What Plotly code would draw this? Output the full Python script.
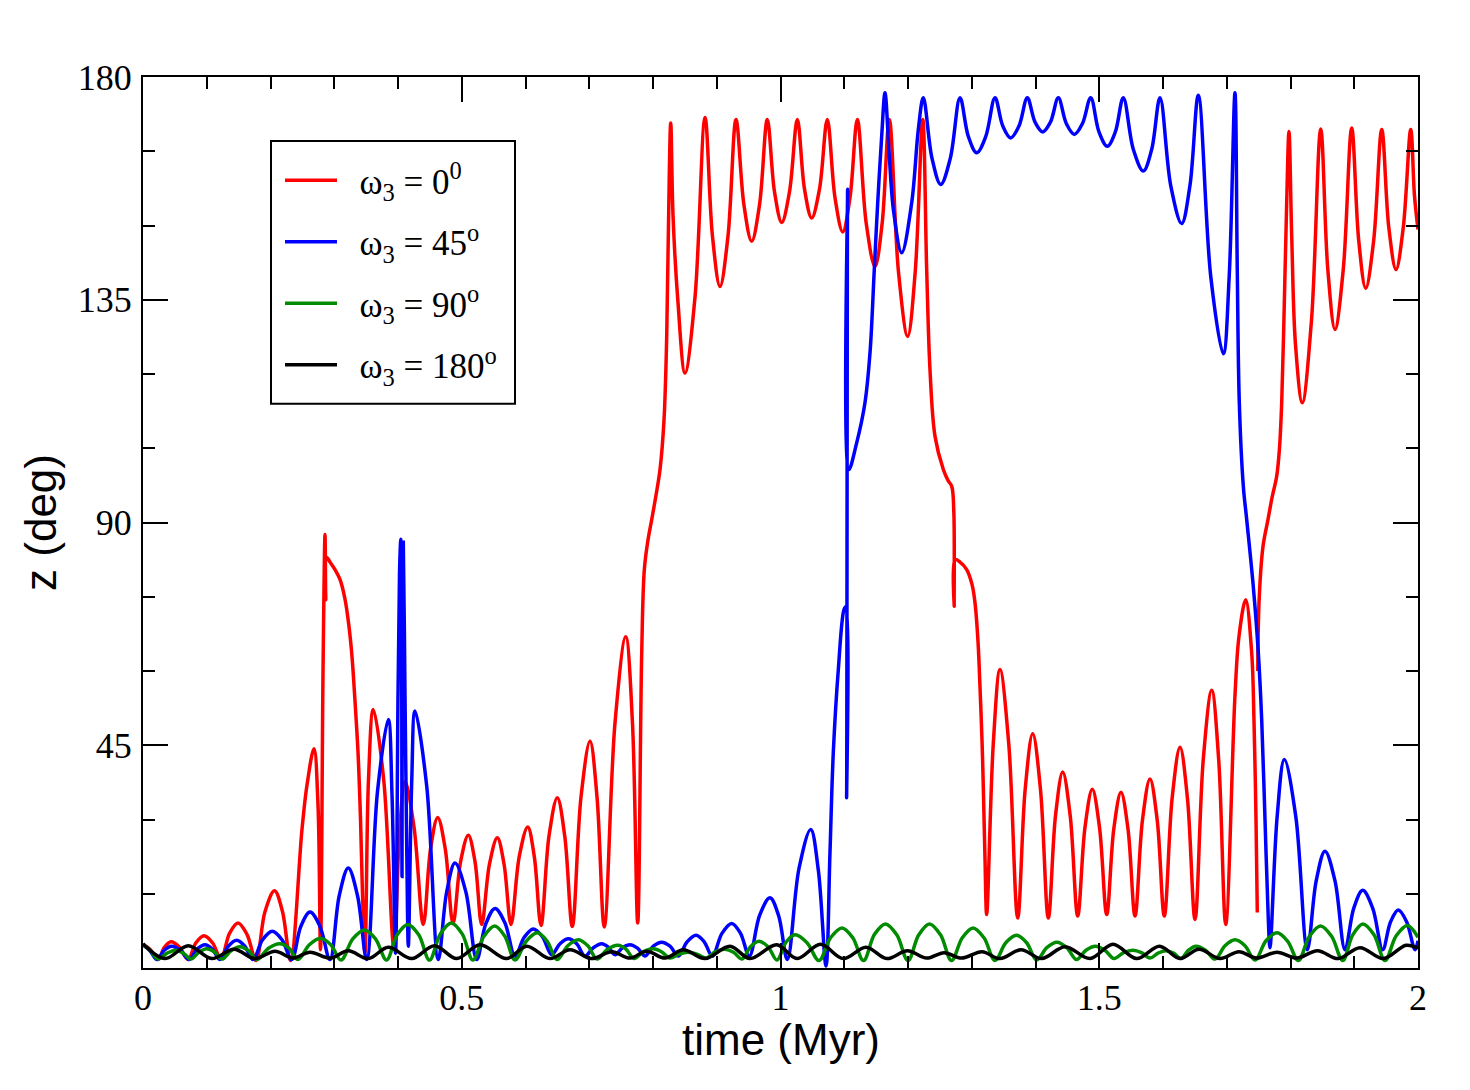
import plotly.graph_objects as go

# ---------------- data (time in Myr, z in degrees) ----------------
red_t = [
    0, 0.0110, 0.0235, 0.0337, 0.0439, 0.0573, 0.0706, 0.0831, 0.0957, 0.1090,
    0.1224, 0.1357, 0.1490, 0.1631, 0.1773, 0.1914, 0.2063, 0.2188, 0.2314, 0.2494,
    0.2573, 0.2682, 0.2745, 0.2784, 0.2824, 0.2855, 0.2867, 0.2878, 0.2933, 0.3012,
    0.3090, 0.3169, 0.3231, 0.3278, 0.3325, 0.3373, 0.3412, 0.3443, 0.3482, 0.3537,
    0.3613, 0.3776, 0.3937, 0.4024, 0.4110, 0.4251, 0.4397, 0.4510, 0.4623, 0.4742,
    0.4863, 0.4982, 0.5103, 0.5208, 0.5313, 0.5435, 0.5558, 0.5663, 0.5773, 0.5903,
    0.6035, 0.6138, 0.6243, 0.6369, 0.6499, 0.6616, 0.6734, 0.6871, 0.7012, 0.7122,
    0.7236, 0.7404, 0.7572, 0.7678, 0.7760, 0.7823, 0.7864, 0.7922, 0.7980, 0.8047,
    0.8110, 0.8173, 0.8215, 0.8240, 0.8278, 0.8314, 0.8389, 0.8502, 0.8659, 0.8816,
    0.8933, 0.9051, 0.9176, 0.9302, 0.9426, 0.9548, 0.9671, 0.9793, 0.9906, 1.0019,
    1.0141, 1.0264, 1.0376, 1.0489, 1.0612, 1.0734, 1.0855, 1.0976, 1.1090, 1.1205,
    1.1344, 1.1482, 1.1595, 1.1707, 1.1851, 1.1995, 1.2113, 1.2231, 1.2293, 1.2345,
    1.2424, 1.2554, 1.2627, 1.2686, 1.2719, 1.2725, 1.2737, 1.2816, 1.2921, 1.3004,
    1.3051, 1.3098, 1.3129, 1.3161, 1.3181, 1.3208, 1.3234, 1.3338, 1.3443, 1.3581,
    1.3721, 1.3838, 1.3956, 1.4078, 1.4201, 1.4314, 1.4427, 1.4544, 1.4662, 1.4776,
    1.4891, 1.5004, 1.5117, 1.5228, 1.5341, 1.5451, 1.5561, 1.5678, 1.5796, 1.5909,
    1.6020, 1.6144, 1.6267, 1.6384, 1.6502, 1.6632, 1.6764, 1.6874, 1.6984, 1.7129,
    1.7192, 1.7297, 1.7391, 1.7427, 1.7459, 1.7479, None, 1.7487, 1.7506, 1.7569,
    1.7647, 1.7710, 1.7784, 1.7827, 1.7862, 1.7903, 1.7940, 1.7976, 1.8019, 1.8078,
    1.8185, 1.8329, 1.8474, 1.8585, 1.8698, 1.8828, 1.8960, 1.9070, 1.9180, 1.9305,
    1.9431, 1.9542, 1.9655, 1.9769, 1.9886, 1.9945, 2.0,
]
red_z = [
    4.7, 3.8, 1.7, 4.2, 5.3, 4.2, 1.7, 5.1, 6.5, 5.1,
    1.9, 7.0, 9.1, 6.8, 1.5, 11.4, 15.6, 11.4, 1.5, 28,
    37, 44.3, 33, 3.7, 60, 87.6, 74.4, 83, 82, 80.5,
    78.5, 74.5, 69, 63, 54, 43.5, 30, 15, 3, 38,
    52.2, 38, 4, 27.5, 37.7, 28.5, 8.8, 24, 30.4, 24,
    9, 21.5, 26.8, 21.5, 8.8, 21, 26.3, 21, 8.8, 22.6,
    28.5, 22.5, 8.6, 26.7, 34.4, 26.6, 8.4, 34.6, 45.8, 34.5,
    8.3, 49.5, 66.9, 49.5, 9.1, 63.7, 80.5, 86.5, 90.6, 95.5,
    100.7, 110.8, 127.6, 147.8, 170.7, 152, 135, 120.2, 135.5, 171.8,
    147.8, 137.7, 147.8, 171.4, 154.2, 146.8, 154.2, 171.4, 156.8, 150.6,
    156.8, 171.4, 157.4, 151.5, 157.4, 171.4, 155.6, 148.7, 155.6, 171.4,
    150.5, 141.7, 150.5, 171.4, 140.6, 127.6, 140.6, 171.4, 141.1, 120.9,
    107.4, 100.7, 98.5, 97.3, 92, 73.1, 82.5, 82, 80.5, 77.5,
    73.8, 66, 56.9, 46, 36.7, 22, 10.8, 45.4, 60.3, 45.2,
    10.1, 36.1, 47.3, 36.1, 10.1, 30.8, 39.6, 30.8, 10.5, 28.4,
    36.1, 28.4, 10.8, 28.1, 35.5, 28.1, 10.5, 29.9, 38.2, 29.9,
    10.5, 34.4, 44.6, 34.2, 9.8, 42.2, 56.1, 42, 8.8, 55,
    67, 74.4, 63.7, 50.2, 30, 11.2, None, 60, 73.8, 85.2,
    90.6, 95, 99.4, 105, 114.2, 134.4, 154.6, 169, 147.8, 126,
    114.2, 130.8, 169.5, 141.2, 129, 141.2, 169.7, 147, 137.3, 147,
    169.4, 149.6, 141.1, 149.6, 169.4, 156, 149.2,
]

blue_t = [
    0, 0.0110, 0.0220, 0.0334, 0.0450, 0.0585, 0.0722, 0.0847, 0.0973, 0.1090,
    0.1208, 0.1338, 0.1470, 0.1597, 0.1725, 0.1876, 0.2028, 0.2180, 0.2333, 0.2475,
    0.2620, 0.2776, 0.2933, 0.3078, 0.3220, 0.3365, 0.3509, 0.3678, 0.3848, 0.3906,
    0.3961, 0.4000, 0.4024, 0.4044, 0.4056, 0.4063, 0.4069, 0.4083, 0.4110, 0.4141,
    0.4162, 0.4215, 0.4267, 0.4450, 0.4632, 0.4764, 0.4894, 0.5064, 0.5235, 0.5377,
    0.5522, 0.5678, 0.5835, 0.5980, 0.6122, 0.6267, 0.6411, 0.6541, 0.6671, 0.6803,
    0.6933, 0.7064, 0.7195, 0.7299, 0.7404, 0.7522, 0.7639, 0.7757, 0.7875, 0.8005,
    0.8136, 0.8267, 0.8397, 0.8536, 0.8675, 0.8803, 0.8930, 0.9082, 0.9235, 0.9373,
    0.9511, 0.9674, 0.9835, 0.9972, 1.0107, 1.0290, 1.0474, 1.0594, 1.0714, 1.0776,
    1.0828, 1.0907, 1.0996, 1.1027, 1.1037, 1.1053, 1.1071, 1.1195, 1.1325, 1.1404,
    1.1471, 1.1525, 1.1587, 1.1639, 1.1702, 1.1773, 1.1901, 1.2058, 1.2162, 1.2240,
    1.2376, 1.2513, 1.2664, 1.2816, 1.2946, 1.3078, 1.3220, 1.3365, 1.3487, 1.3611,
    1.3741, 1.3872, 1.3992, 1.4113, 1.4235, 1.4358, 1.4483, 1.4609, 1.4737, 1.4866,
    1.4996, 1.5126, 1.5252, 1.5377, 1.5534, 1.5691, 1.5823, 1.5953, 1.6122, 1.6293,
    1.6424, 1.6554, 1.6750, 1.6946, 1.7039, 1.7129, 1.7165, 1.7197, 1.7260, 1.7313,
    1.7416, 1.7495, 1.7548, 1.7600, 1.7652, 1.7678, 1.7791, 1.7903, 1.8083, 1.8264,
    1.8403, 1.8541, 1.8698, 1.8855, 1.8993, 1.9133, 1.9289, 1.9446, 1.9569, 1.9691,
    1.9823, 1.9953, 2.0,
]
blue_z = [
    4.7, 3.5, 1.7, 3.6, 4.4, 3.6, 1.7, 3.8, 4.7, 3.8,
    1.7, 4.4, 5.6, 4.4, 1.7, 5.7, 7.4, 5.7, 1.7, 8.4,
    11.3, 8.4, 1.7, 14.6, 20.2, 14.6, 1.7, 35.6, 50.2, 35,
    3, 55, 80, 86.6, 70, 18.5, 70, 86, 55, 20,
    4.4, 37.6, 51.9, 36.8, 1.7, 15.4, 21.2, 15.4, 1.7, 8.9,
    12, 9.1, 2.4, 6.2, 7.9, 6.3, 2.7, 4.9, 5.9, 4.9,
    2.4, 4.1, 4.9, 4.2, 2.7, 4.1, 4.7, 4.0, 2.4, 4.4,
    5.2, 4.4, 2.4, 5.3, 6.6, 5.3, 2.4, 7.0, 9.0, 7.0,
    2.4, 10.7, 14.2, 10.5, 1.7, 20.1, 28, 19.7, 0.4, 23.3,
    43.5, 60.3, 72.4, 73, 34.4, 157.3, 100.7, 106.1, 114.2, 124.3,
    141.1, 154.6, 168, 176.8, 165, 153, 144.5, 154.6, 169.4, 175.8,
    163.6, 158.3, 163.6, 175.8, 168, 164.7, 168, 175.8, 170.1, 167.7,
    170.1, 175.8, 170.9, 168.9, 170.9, 175.8, 170.6, 168.4, 170.6, 175.8,
    168.9, 166, 168.9, 175.8, 165.4, 161, 165.4, 175.8, 158, 150.4,
    158.2, 176.3, 139.6, 124.1, 139.9, 176.8, 141.1, 114.2, 97.3, 90.6,
    77.1, 63.7, 50.2, 30, 9.8, 4.1, 30.7, 42.1, 30.6, 3.7,
    17.6, 23.6, 17.6, 3.7, 12.1, 15.7, 12.1, 3.7, 9.3, 11.7,
    9.3, 3.7, 5.5,
]

green_t = [
    0, 0.0110, 0.0235, 0.0376, 0.0518, 0.0635, 0.0753, 0.0878, 0.0999, 0.1118,
    0.1239, 0.1380, 0.1522, 0.1655, 0.1788, 0.1969, 0.2149, 0.2290, 0.2431, 0.2609,
    0.2784, 0.2946, 0.3106, 0.3291, 0.3475, 0.3647, 0.3820, 0.3987, 0.4154, 0.4325,
    0.4494, 0.4665, 0.4836, 0.5007, 0.5176, 0.5347, 0.5517, 0.5677, 0.5835, 0.6011,
    0.6185, 0.6340, 0.6494, 0.6664, 0.6831, 0.6977, 0.7122, 0.7286, 0.7451, 0.7576,
    0.7702, 0.7851, 0.8000, 0.8133, 0.8267, 0.8408, 0.8549, 0.8690, 0.8831, 0.8980,
    0.9129, 0.9263, 0.9396, 0.9529, 0.9663, 0.9804, 0.9945, 1.0086, 1.0227, 1.0416,
    1.0604, 1.0784, 1.0965, 1.1134, 1.1302, 1.1475, 1.1647, 1.1824, 1.2000, 1.2169,
    1.2337, 1.2510, 1.2682, 1.2852, 1.3020, 1.3192, 1.3365, 1.3534, 1.3702, 1.3861,
    1.4019, 1.4177, 1.4337, 1.4491, 1.4646, 1.4792, 1.4941, 1.5087, 1.5231, 1.5380,
    1.5529, 1.5663, 1.5796, 1.5922, 1.6047, 1.6165, 1.6282, 1.6400, 1.6518, 1.6667,
    1.6816, 1.6973, 1.7129, 1.7286, 1.7443, 1.7616, 1.7788, 1.7956, 1.8122, 1.8297,
    1.8471, 1.8645, 1.8819, 1.8977, 1.9137, 1.9310, 1.9482, 1.9658, 1.9835, 2.0,
]
green_z = [
    4.7, 3.6, 1.8, 3.0, 3.6, 3.0, 1.8, 3.2, 3.9, 3.3,
    1.8, 3.5, 4.3, 3.5, 1.7, 4.0, 4.9, 4.0, 1.7, 4.7,
    6.0, 4.7, 1.6, 5.9, 7.7, 5.9, 1.6, 6.7, 8.8, 6.7,
    1.6, 6.9, 9.1, 6.9, 1.6, 6.4, 8.5, 6.4, 1.6, 5.4,
    7.1, 5.4, 1.7, 4.5, 5.7, 4.5, 1.8, 3.8, 4.6, 3.8,
    1.9, 3.3, 3.9, 3.3, 2.0, 2.8, 3.2, 2.8, 2.0, 3.3,
    3.8, 3.2, 1.8, 4.3, 5.4, 4.3, 1.6, 5.2, 6.7, 5.1,
    1.5, 6.1, 8.1, 6.1, 1.5, 6.8, 8.9, 6.7, 1.5, 6.7,
    8.9, 6.7, 1.5, 6.1, 8.1, 6.1, 1.5, 5.1, 6.6, 5.1,
    1.6, 4.1, 5.2, 4.1, 1.7, 3.6, 4.4, 3.6, 1.9, 3.1,
    3.6, 3.1, 2.0, 3.0, 3.5, 3.0, 1.9, 3.6, 4.4, 3.6,
    1.8, 4.5, 5.7, 4.5, 1.6, 5.5, 7.1, 5.4, 1.5, 6.4,
    8.5, 6.4, 1.5, 6.7, 8.9, 6.7, 1.5, 6.5, 8.6, 6.2,
]

black_t = [
    0, 0.0345, 0.0711, 0.1078, 0.1427, 0.1757, 0.2071, 0.2353, 0.2620, 0.2933,
    0.3220, 0.3534, 0.3848, 0.4215, 0.4573, 0.4921, 0.5286, 0.5705, 0.6019, 0.6384,
    0.6698, 0.7038, 0.7352, 0.7639, 0.7901, 0.8188, 0.8475, 0.8816, 0.9208, 0.9522,
    0.9940, 1.0259, 1.0627, 1.0985, 1.1341, 1.1666, 1.1992, 1.2293, 1.2565, 1.2842,
    1.3161, 1.3443, 1.3773, 1.4097, 1.4463, 1.4855, 1.5216, 1.5587, 1.5945, 1.6267,
    1.6565, 1.6894, 1.7192, 1.7470, 1.7788, 1.8097, 1.8424, 1.8750, 1.9090, 1.9456,
    1.9812, 2.0,
]
black_z = [
    4.9, 1.9, 4.5, 1.9, 3.8, 1.9, 3.4, 2.0, 3.2, 2.0,
    3.5, 1.9, 4.2, 1.9, 4.5, 1.9, 4.7, 1.9, 4.4, 1.9,
    3.7, 1.9, 3.3, 2.0, 3.4, 2.0, 3.7, 1.9, 4.4, 1.9,
    4.7, 1.9, 4.8, 1.9, 4.2, 1.9, 3.5, 2.0, 3.1, 2.0,
    3.3, 1.9, 3.7, 1.9, 4.3, 1.9, 4.8, 1.9, 4.4, 1.9,
    3.8, 1.9, 3.3, 2.0, 3.2, 2.0, 3.5, 1.9, 4.1, 1.9,
    4.6, 4.0,
]

series_names = [
    "\u00a0\u00a0ω<sub>3</sub> = 0<sup>0</sup>",
    "\u00a0\u00a0ω<sub>3</sub> = 45<sup>o</sup>",
    "\u00a0\u00a0ω<sub>3</sub> = 90<sup>o</sup>",
    "\u00a0\u00a0ω<sub>3</sub> = 180<sup>o</sup>",
]
series_colors = ["#ff0000", "#0000ff", "#008b00", "#000000"]

x_ticks_major = 0.5
x_ticks_minor = 0.1
y_tick_vals = [45, 90, 135, 180]
y_ticks_minor = 15

# ---------------- figure ----------------
fig = go.Figure()
for i, (tt, zz) in enumerate([(red_t, red_z), (blue_t, blue_z),
                              (green_t, green_z), (black_t, black_z)]):
    fig.add_trace(go.Scatter(
        x=tt, y=zz, mode="lines", name=series_names[i],
        legendgroup=f"g{i}",
        line=dict(color=series_colors[i], width=3.5, shape="spline", smoothing=1.0),
        connectgaps=False, hoverinfo="skip",
    ))

tick_font = dict(family="Liberation Serif", size=36, color="black")
title_font = dict(family="Liberation Sans", size=44, color="black")

# plot area in pixels (for placing the legend frame / x title in paper units)
PL, PR, PT, PB = 143, 1418, 77, 968.5
def px_x(p):
    return (p - PL) / (PR - PL)
def px_y(p):
    return (PB - p) / (PB - PT)

fig.update_layout(
    width=1470, height=1090,
    margin=dict(l=143, r=52, t=77, b=121.5),
    paper_bgcolor="white", plot_bgcolor="white",
    showlegend=True,
    legend=dict(
        x=px_x(271), y=px_y(151), xanchor="left", yanchor="top",
        bgcolor="rgba(0,0,0,0)", borderwidth=0,
        font=dict(family="Liberation Serif", size=35, color="black"),
        itemwidth=52, tracegroupgap=13, traceorder="grouped",
        indentation=9,
    ),
    shapes=[dict(
        type="rect", xref="paper", yref="paper", layer="above",
        x0=px_x(271), x1=px_x(515), y0=px_y(404), y1=px_y(141),
        line=dict(color="black", width=2), fillcolor="white",
    )],
    annotations=[dict(
        text="time (Myr)", xref="paper", yref="paper",
        x=0.5, y=px_y(1040), xanchor="center", yanchor="middle",
        showarrow=False, font=title_font,
    )],
    xaxis=dict(
        range=[0, 2], tickmode="linear", tick0=0, dtick=x_ticks_major,
        showline=True, linecolor="black", linewidth=2, mirror="ticks",
        ticks="inside", ticklen=25, tickwidth=1.5, tickcolor="black",
        minor=dict(dtick=x_ticks_minor, ticks="inside", ticklen=12,
                   tickwidth=1.5, tickcolor="black", showgrid=False),
        showgrid=False, zeroline=False, tickfont=tick_font,
        ticklabelstandoff=-3, automargin=False,
    ),
    yaxis=dict(
        range=[0, 180], tickmode="array", tickvals=y_tick_vals,
        showline=True, linecolor="black", linewidth=2, mirror="ticks",
        ticks="inside", ticklen=25, tickwidth=1.5, tickcolor="black",
        minor=dict(dtick=y_ticks_minor, ticks="inside", ticklen=12,
                   tickwidth=1.5, tickcolor="black", showgrid=False),
        showgrid=False, zeroline=False, tickfont=tick_font,
        ticklabelstandoff=2, automargin=False,
        title=dict(text="z (deg)", font=title_font, standoff=7),
    ),
)

fig.write_html("out.html")
